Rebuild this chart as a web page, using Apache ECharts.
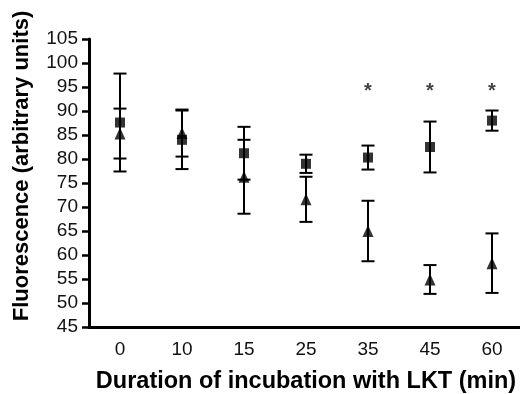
<!DOCTYPE html>
<html>
<head>
<meta charset="utf-8">
<script src="https://cdn.jsdelivr.net/npm/echarts@6/dist/echarts.min.js"></script>
<style>
html,body{margin:0;padding:0;background:#fff;}
#chart{width:520px;height:394px;}
</style>
</head>
<body>
<div id="chart"></div>
<script>
// Data
const categories = ['0', '10', '15', '25', '35', '45', '60'];
const squareMean = [87.6, 84.0, 81.2, 79.0, 80.3, 82.5, 88.0];
const squareErr  = [10.2, 6.1, 5.5, 1.9, 2.5, 5.3, 2.1];
const triangleMean = [85.3, 85.4, 76.3, 71.6, 65.0, 54.9, 58.3];
const triangleErr  = [5.2, 4.9, 7.7, 4.7, 6.3, 3.0, 6.2];
const starValues = [null, null, null, null, 95.1, 95.1, 95.1];
const yTicks = {min: 45, max: 105, step: 5};
const xTitle = 'Duration of incubation with LKT (min)';
const yTitle = 'Fluorescence (arbitrary units)';

const FONT = '"Liberation Sans", Arial, Helvetica, sans-serif';

function errData(mean, err) {
  return mean.map((m, i) => [i, m - err[i], m + err[i]]);
}

function errRender(params, api) {
  const i = api.value(0);
  const lo = api.coord([i, api.value(1)]);
  const hi = api.coord([i, api.value(2)]);
  const hw = 6.5;
  const style = {stroke: '#000', lineWidth: 2, fill: null};
  return {
    type: 'group',
    children: [
      {type: 'line', shape: {x1: lo[0], y1: lo[1], x2: hi[0], y2: hi[1]}, style: style},
      {type: 'line', shape: {x1: lo[0] - hw, y1: lo[1], x2: lo[0] + hw, y2: lo[1]}, style: style},
      {type: 'line', shape: {x1: hi[0] - hw, y1: hi[1], x2: hi[0] + hw, y2: hi[1]}, style: style}
    ]
  };
}

const chart = echarts.init(document.getElementById('chart'), null, {renderer: 'canvas'});
chart.setOption({
  animation: false,
  backgroundColor: '#fff',
  grid: {left: 89, right: -3, top: 39, bottom: 67, containLabel: false, outerBoundsMode: 'none'},
  xAxis: {
    type: 'category',
    data: categories,
    boundaryGap: true,
    axisLine: {lineStyle: {color: '#000', width: 3}},
    axisTick: {alignWithLabel: true, length: 7, lineStyle: {color: '#000', width: 2.5}},
    axisLabel: {color: '#111', fontFamily: FONT, fontSize: 19, margin: 13},
    splitLine: {show: false},
    name: xTitle,
    nameLocation: 'middle',
    nameGap: 43,
    nameTextStyle: {color: '#000', fontFamily: FONT, fontSize: 23.5, fontWeight: 'bold'}
  },
  yAxis: {
    type: 'value',
    min: yTicks.min,
    max: yTicks.max,
    interval: yTicks.step,
    axisLine: {show: true, lineStyle: {color: '#000', width: 3}},
    axisTick: {show: true, length: 7, lineStyle: {color: '#000', width: 2.5}},
    axisLabel: {color: '#111', fontFamily: FONT, fontSize: 19, margin: 11},
    splitLine: {show: false}
  },
  graphic: [{
    type: 'text',
    rotation: Math.PI / 2,
    x: 22, y: 166,
    style: {text: yTitle, fill: '#000', font: 'bold 22px ' + FONT, textAlign: 'center', textVerticalAlign: 'middle'}
  }],
  series: [
    {type: 'custom', renderItem: errRender, data: errData(squareMean, squareErr), z: 2},
    {type: 'custom', renderItem: errRender, data: errData(triangleMean, triangleErr), z: 2},
    {type: 'scatter', data: squareMean, symbol: 'rect', symbolSize: 10,
     itemStyle: {color: '#000'}, z: 3},
    {type: 'scatter', data: triangleMean, symbol: 'triangle', symbolSize: [11, 12],
     itemStyle: {color: '#000'}, z: 4},
    {type: 'scatter', data: starValues, symbolSize: 0,
     label: {show: true, formatter: '*', position: 'inside', color: '#111',
             fontFamily: FONT, fontSize: 20, fontWeight: 'bold', offset: [0, 5]}, z: 5}
  ]
});
</script>
</body>
</html>
